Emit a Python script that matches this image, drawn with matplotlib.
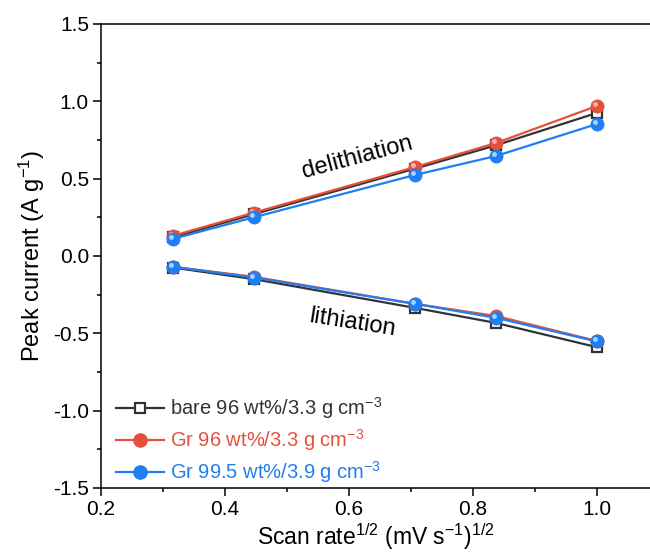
import matplotlib
matplotlib.use("Agg")
import matplotlib.pyplot as plt
import matplotlib.transforms as mtransforms
from matplotlib.lines import Line2D
from matplotlib.ticker import MultipleLocator

plt.rcParams["font.family"] = ["Liberation Sans", "DejaVu Sans"]
plt.rcParams["mathtext.fontset"] = "custom"
plt.rcParams["mathtext.rm"] = "Liberation Sans"
plt.rcParams["mathtext.it"] = "Liberation Sans:italic"
plt.rcParams["mathtext.bf"] = "Liberation Sans:bold"

# sqrt of scan rate (0.1, 0.2, 0.5, 0.7, 1.0 mV/s)
sqrt_rate = [0.316, 0.447, 0.707, 0.837, 1.0]

bare_delith = [0.12, 0.27, 0.565, 0.715, 0.925]
bare_lith = [-0.075, -0.15, -0.336, -0.433, -0.59]
gr96_delith = [0.13, 0.28, 0.575, 0.73, 0.97]
gr96_lith = [-0.07, -0.135, -0.31, -0.388, -0.55]
gr995_delith = [0.11, 0.25, 0.524, 0.646, 0.853]
gr995_lith = [-0.07, -0.14, -0.31, -0.40, -0.553]

labels = [
    r"bare 96 wt%/3.3 g cm$^{-3}$",
    r"Gr 96 wt%/3.3 g cm$^{-3}$",
    r"Gr 99.5 wt%/3.9 g cm$^{-3}$",
]
BLACK = "#333333"
RED = "#E5503C"
BLUE = "#1E7EF2"
RED_HI = "#F6B2A6"
BLUE_HI = "#A9D2FF"

fig = plt.figure(figsize=(6.5, 5.57), dpi=100)
ax = fig.add_axes([0.155, 0.124, 0.845, 0.833])

ms_ball = 9.5
for ys in (bare_delith, bare_lith):
    ax.plot(sqrt_rate, ys, color=BLACK, lw=1.6, marker="s", ms=7,
            mfc="white", mec=BLACK, mew=1.6, zorder=2)

# shaded "ball" markers: base disc plus a small highlight up-left
hi_shift = mtransforms.offset_copy(ax.transData, fig=fig, x=-1.5, y=1.5, units="points")
for ys_pair, col, hi, z in ((gr96_delith, RED, RED_HI, 3), (gr96_lith, RED, RED_HI, 3),
                           (gr995_delith, BLUE, BLUE_HI, 4), (gr995_lith, BLUE, BLUE_HI, 4)):
    ax.plot(sqrt_rate, ys_pair, color=col, lw=1.6, marker="o", ms=ms_ball,
            mfc=col, mec=col, mew=0.5, zorder=z)
    ax.plot(sqrt_rate, ys_pair, ls="none", marker="o", ms=3.5, mfc=hi, mec="none",
            transform=hi_shift, zorder=z + 0.1)

ax.text(0.613, 0.635, "delithiation", fontsize=17, rotation=15,
        ha="center", va="center")
ax.text(0.606, -0.435, "lithiation", fontsize=17, rotation=-9,
        ha="center", va="center")

ax.set_xlim(0.2, 0.2 + 549 / 620)
ax.set_ylim(-1.5, 1.5)
ax.xaxis.set_major_locator(MultipleLocator(0.2))
ax.xaxis.set_minor_locator(MultipleLocator(0.1))
ax.yaxis.set_major_locator(MultipleLocator(0.5))
ax.yaxis.set_minor_locator(MultipleLocator(0.25))
ax.xaxis.set_major_formatter(plt.FuncFormatter(lambda v, p: f"{v:.1f}"))
ax.yaxis.set_major_formatter(plt.FuncFormatter(lambda v, p: f"{v:.1f}"))
ax.tick_params(which="major", direction="out", length=6, width=1.1, labelsize=15,
               pad=2.5, top=False, right=False)
ax.tick_params(which="minor", direction="out", length=3, width=1.1,
               top=False, right=False)
ax.spines["right"].set_visible(False)
for side in ("left", "bottom", "top"):
    ax.spines[side].set_linewidth(1.1)

ax.set_xlabel(r"Scan rate$^{1/2}$ (mV s$^{-1}$)$^{1/2}$", fontsize=16.5, labelpad=2)
ax.set_ylabel(r"Peak current (A g$^{-1}$)", fontsize=17, labelpad=4)

handles = [
    Line2D([0], [0], color=BLACK, lw=1.6, marker="s", ms=7, mfc="white", mec=BLACK, mew=1.6),
    Line2D([0], [0], color=RED, lw=1.6, marker="o", ms=ms_ball, mfc=RED, mec=RED),
    Line2D([0], [0], color=BLUE, lw=1.6, marker="o", ms=ms_ball, mfc=BLUE, mec=BLUE),
]
leg = ax.legend(handles, labels, loc="upper left", bbox_to_anchor=(0.027, 0.2),
                frameon=False, fontsize=14.5, handlelength=2.4, handletextpad=0.3,
                labelspacing=0.3, borderpad=0, borderaxespad=0)
for txt, col in zip(leg.get_texts(), (BLACK, RED, BLUE)):
    txt.set_color(col)

fig.savefig("out.png", dpi=100)
